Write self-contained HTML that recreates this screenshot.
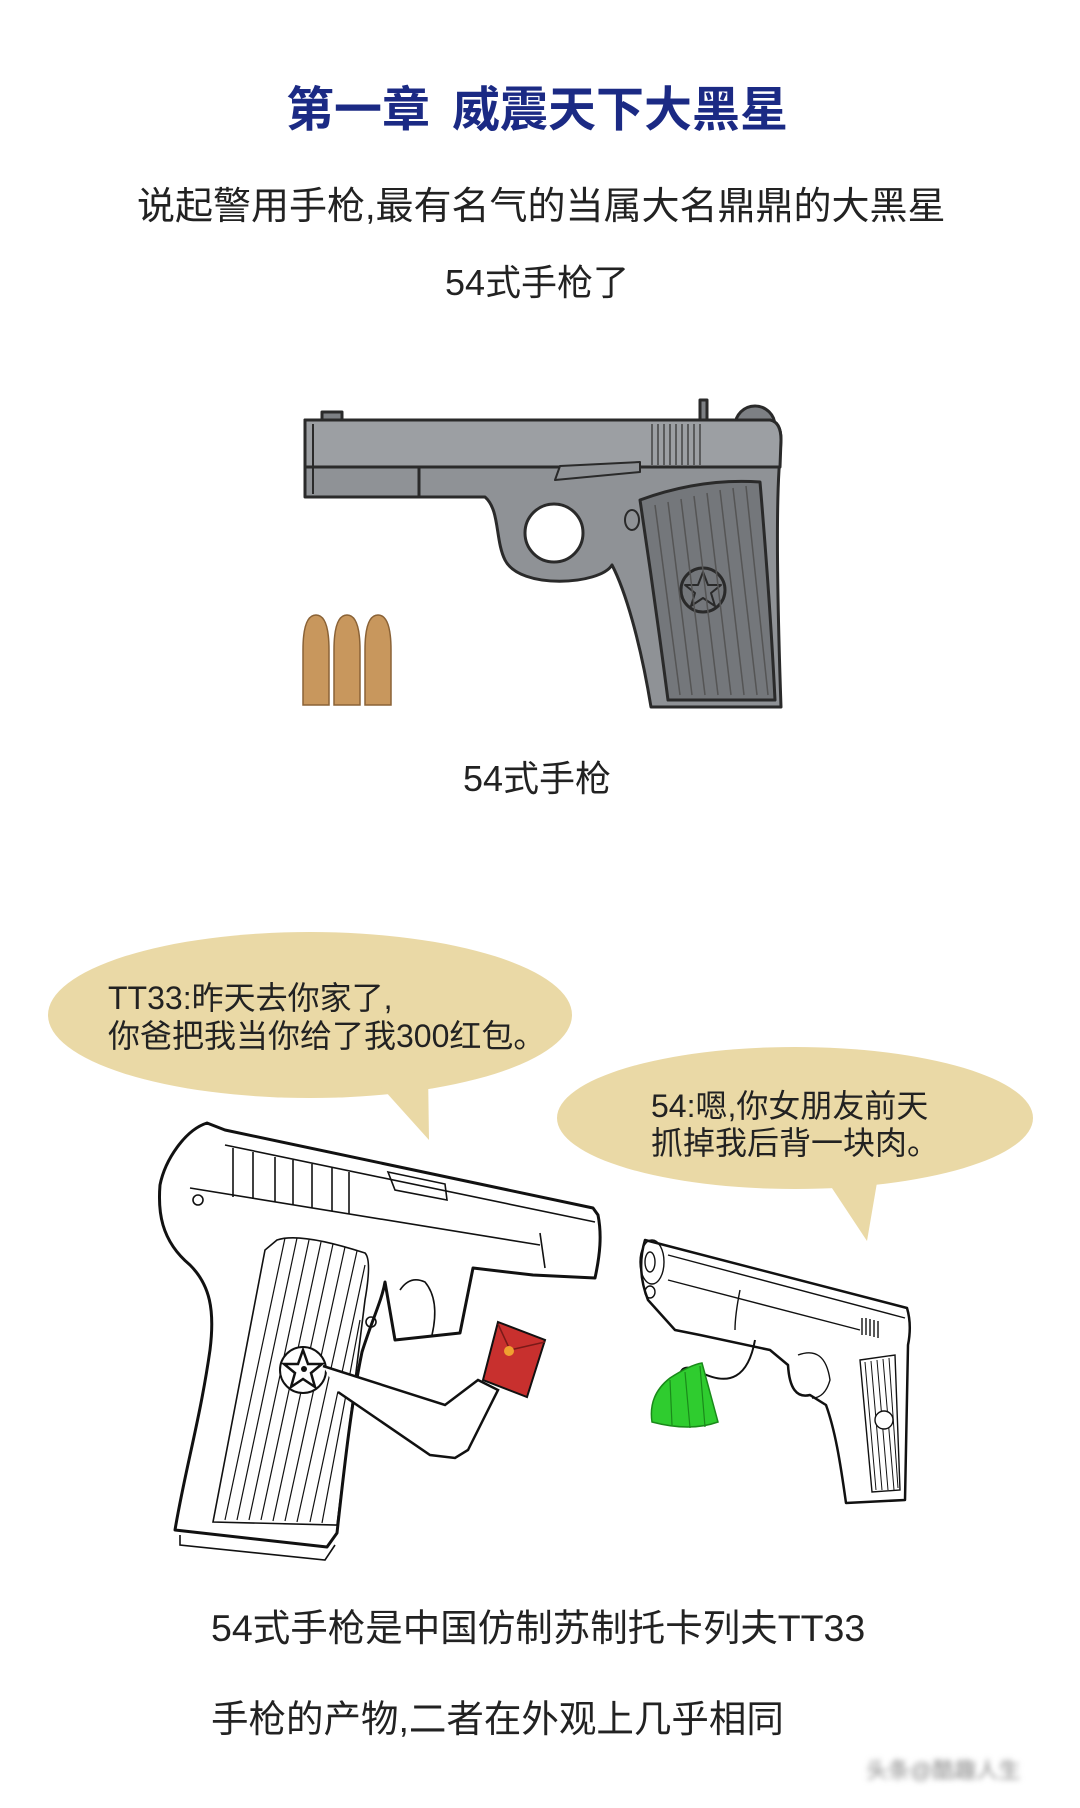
<!DOCTYPE html>
<html><head><meta charset="utf-8"><style>
html,body{margin:0;padding:0;background:#fff;}
body{width:1080px;height:1808px;position:relative;overflow:hidden;font-family:"Liberation Sans","Noto Sans CJK SC",sans-serif;color:#222;}
.t{position:absolute;white-space:nowrap;line-height:1;}
svg{position:absolute;left:0;top:0;}
</style></head><body>
<svg width="1080" height="1808" viewBox="0 0 1080 1808">
 <g stroke="#2a2a2a" stroke-width="3" stroke-linejoin="round">
  <circle cx="755" cy="426" r="20" fill="#7d8084"/>
  <rect x="700" y="400" width="7" height="22" fill="#7d8084"/>
  <rect x="322" y="412" width="20" height="10" fill="#7d8084"/>
  <path d="M305,420 L770,420 Q781,422 781,440 L779,470 C776,520 778,620 781,707 L651,707 C640,640 625,590 612,565 C600,585 520,590 505,560 C495,540 500,510 485,497 L305,497 Z" fill="#8f9296"/>
  <path d="M305,420 L770,420 Q781,422 781,440 L780,467 L305,467 Z" fill="#9c9fa3"/>
  <line x1="419" y1="467" x2="419" y2="497"/>
  <line x1="313" y1="424" x2="313" y2="494" stroke-width="2"/>
  <circle cx="554" cy="533" r="29" fill="#fff"/>
  <path d="M640,500 Q700,478 760,482 Q770,600 775,700 L668,700 Q655,600 640,500 Z" fill="#74777b"/>
  <circle cx="703" cy="590" r="22" fill="#74777b"/>
  <path d="M703,572 L708,585 L721,585 L711,593 L715,606 L703,598 L691,606 L695,593 L685,585 L698,585 Z" fill="none" stroke-width="2"/>
  <ellipse cx="632" cy="520" rx="7" ry="10" fill="none" stroke-width="2"/>
  <path d="M555,480 L640,472 L640,462 L560,466 Z" fill="#8f9296" stroke-width="2"/>
 </g>
 <g stroke="#444" stroke-width="1.5">
  <line x1="652" y1="424" x2="652" y2="465"/><line x1="658" y1="424" x2="658" y2="465"/><line x1="664" y1="424" x2="664" y2="465"/><line x1="670" y1="424" x2="670" y2="465"/><line x1="676" y1="424" x2="676" y2="465"/><line x1="682" y1="424" x2="682" y2="465"/><line x1="688" y1="424" x2="688" y2="465"/><line x1="694" y1="424" x2="694" y2="465"/><line x1="700" y1="424" x2="700" y2="465"/>
  <g stroke="#555"><line x1="655" y1="505" x2="680" y2="695"/><line x1="668" y1="502" x2="692" y2="695"/><line x1="681" y1="499" x2="705" y2="695"/><line x1="694" y1="496" x2="718" y2="695"/><line x1="707" y1="493" x2="731" y2="695"/><line x1="720" y1="490" x2="744" y2="695"/><line x1="733" y1="488" x2="757" y2="695"/><line x1="746" y1="486" x2="768" y2="695"/></g>
 </g>
 <g fill="#c8975d" stroke="#8a6236" stroke-width="1.5">
  <path d="M303,705 L303,650 Q303,615 316,615 Q329,615 329,650 L329,705 Z"/>
  <path d="M334,705 L334,650 Q334,615 347,615 Q360,615 360,650 L360,705 Z"/>
  <path d="M365,705 L365,650 Q365,615 378,615 Q391,615 391,650 L391,705 Z"/>
 </g>
 <g fill="#ead9a6">
  <ellipse cx="310" cy="1015" rx="262" ry="83"/>
  <path d="M375,1080 L429,1140 L428,1070 Z"/>
  <ellipse cx="795" cy="1118" rx="238" ry="71"/>
  <path d="M820,1170 L867,1241 L880,1165 Z"/>
 </g>
 <g fill="#fff" stroke="#111" stroke-width="3" stroke-linejoin="round">
  <path d="M207,1123 C185,1130 165,1160 160,1185 C158,1210 160,1240 190,1265 C210,1285 215,1310 210,1350 C200,1420 185,1470 175,1530 L327,1547 L337,1533 C345,1460 352,1400 362,1352 C372,1320 382,1300 385,1282 L395,1340 L460,1333 L473,1268 L533,1275 L595,1278 C600,1255 602,1235 598,1215 L593,1208 L225,1130 Z"/>
 </g>
 <g fill="none" stroke="#111" stroke-width="1.6">
  <line x1="225" y1="1145" x2="595" y2="1222"/>
  <line x1="190" y1="1188" x2="540" y2="1245"/>
  <path d="M540,1233 L545,1268"/>
  <line x1="233" y1="1148" x2="233" y2="1197"/><line x1="253" y1="1152" x2="253" y2="1199"/><line x1="275" y1="1157" x2="275" y2="1202"/><line x1="293" y1="1160" x2="293" y2="1205"/><line x1="312" y1="1164" x2="312" y2="1208"/><line x1="332" y1="1168" x2="332" y2="1211"/><line x1="349" y1="1172" x2="349" y2="1214"/>
  <path d="M388,1172 L445,1184 L447,1200 L395,1190 Z"/>
  <path d="M277,1240 Q300,1232 365,1253 Q372,1260 365,1300 L337,1525 L213,1522 L265,1250 Z"/>
  <g stroke-width="1.2"><line x1="285" y1="1238" x2="225" y2="1520"/><line x1="297" y1="1238" x2="237" y2="1520"/><line x1="309" y1="1240" x2="249" y2="1520"/><line x1="321" y1="1242" x2="261" y2="1520"/><line x1="333" y1="1244" x2="273" y2="1521"/><line x1="345" y1="1247" x2="285" y2="1521"/><line x1="357" y1="1251" x2="297" y2="1522"/><line x1="365" y1="1265" x2="310" y2="1522"/><line x1="360" y1="1320" x2="322" y2="1523"/></g>
  <path d="M400,1290 Q410,1275 425,1282 Q440,1300 432,1335"/>
  <circle cx="198" cy="1200" r="5"/><circle cx="371" cy="1322" r="5"/>
  <path d="M180,1535 L180,1545 L325,1560 L335,1545"/>
 </g>
 <circle cx="303" cy="1370" r="23" fill="#fff" stroke="#111" stroke-width="2"/>
 <path d="M303,1350 L308,1364 L322,1364 L311,1373 L315,1387 L303,1379 L291,1387 L295,1373 L284,1364 L298,1364 Z" fill="#fff" stroke="#111" stroke-width="2.5"/>
 <circle cx="304" cy="1369" r="3" fill="#111"/>
 <path d="M323,1366 L445,1405 L478,1380 L498,1390 L488,1410 L468,1450 L455,1458 L430,1455 L338,1392" fill="#fff" stroke="#111" stroke-width="2.5"/>
 <path d="M498,1322 L545,1340 L527,1397 L483,1380 Z" fill="#c8302e" stroke="#111" stroke-width="2"/>
 <path d="M498,1324 L510,1350 L545,1342" fill="none" stroke="#7a1a18" stroke-width="1.5"/>
 <circle cx="509" cy="1351" r="5" fill="#f0a030"/>
 <g fill="#fff" stroke="#111" stroke-width="2.5" stroke-linejoin="round">
  <path d="M645,1240 L907,1308 Q912,1325 908,1345 L905,1500 L846,1503 C840,1460 835,1430 826,1405 L810,1395 Q790,1400 788,1365 L770,1350 L700,1335 L675,1330 L648,1300 Q636,1270 645,1240 Z"/>
 </g>
 <g fill="none" stroke="#111" stroke-width="1.4">
  <ellipse cx="652" cy="1262" rx="12" ry="22"/><ellipse cx="650" cy="1262" rx="5" ry="10"/><ellipse cx="650" cy="1292" rx="5" ry="6"/>
  <line x1="668" y1="1255" x2="905" y2="1318"/><line x1="668" y1="1280" x2="860" y2="1330"/>
  <path d="M740,1290 Q735,1315 735,1330"/>
  <path d="M798,1355 Q825,1345 830,1380 Q825,1398 812,1398"/>
  <path d="M860,1360 L895,1355 L900,1490 L872,1492 Z"/>
  <g stroke-width="1"><line x1="865" y1="1362" x2="876" y2="1490"/><line x1="871" y1="1361" x2="882" y2="1490"/><line x1="877" y1="1360" x2="888" y2="1490"/><line x1="883" y1="1359" x2="894" y2="1490"/><line x1="889" y1="1358" x2="898" y2="1488"/></g>
  <line x1="862" y1="1318" x2="862" y2="1335"/><line x1="866" y1="1318" x2="866" y2="1335"/><line x1="870" y1="1319" x2="870" y2="1336"/><line x1="874" y1="1320" x2="874" y2="1337"/><line x1="878" y1="1321" x2="878" y2="1338"/>
  <circle cx="884" cy="1420" r="9" fill="#fff"/>
 </g>
 <path d="M755,1340 Q745,1395 700,1372 Q682,1362 680,1375" fill="none" stroke="#111" stroke-width="2"/>
 <path d="M652,1422 Q648,1395 670,1378 Q690,1365 702,1363 L718,1422 Q690,1432 652,1422 Z" fill="#2fcc2f" stroke="#1a8a1a" stroke-width="1.5"/>
 <path d="M670,1380 L672,1425 M685,1372 L690,1428 M700,1366 L705,1427" stroke="#1a8a1a" stroke-width="1.2" fill="none"/>
</svg>

<div class="t" style="left:286px;top:87px;font-size:48px;font-weight:bold;color:#1b2a84;">第一章<span style="display:inline-block;width:22px"></span>威震天下大黑星</div>
<div class="t" style="left:137px;top:188px;font-size:38px;">说起警用手枪,最有名气的当属大名鼎鼎的大黑星</div>
<div class="t" style="left:445px;top:265px;font-size:36px;">54式手枪了</div>
<div class="t" style="left:463px;top:761px;font-size:36px;">54式手枪</div>
<div class="t" style="left:108px;top:979px;font-size:32px;line-height:38px;">TT33:昨天去你家了,<br>你爸把我当你给了我300红包。</div>
<div class="t" style="left:651px;top:1088px;font-size:32px;line-height:37px;">54:嗯,你女朋友前天<br>抓掉我后背一块肉。</div>
<div class="t" style="left:211px;top:1610px;font-size:37.5px;">54式手枪是中国仿制苏制托卡列夫TT33</div>
<div class="t" style="left:211px;top:1701px;font-size:37.5px;">手枪的产物,二者在外观上几乎相同</div>
<div class="t" style="left:866px;top:1760px;font-size:22px;color:#888;filter:blur(3px);">头条@酷趣人生</div>
</body></html>
